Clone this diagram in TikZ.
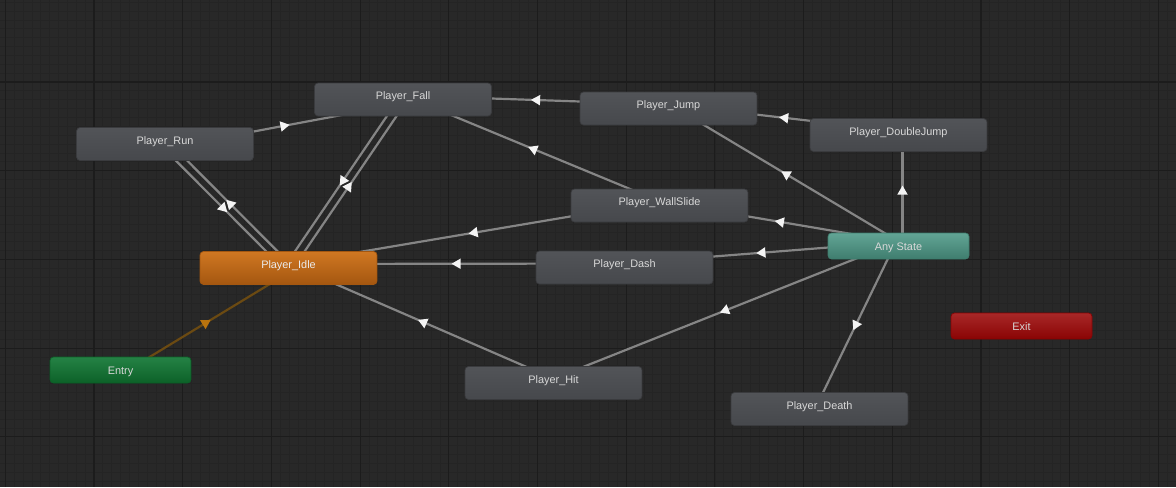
\documentclass[tikz,border=0pt]{standalone}
\usepackage{fontspec}
\setmainfont{Liberation Sans}
\usetikzlibrary{calc,decorations.markings}
\definecolor{bgDark}{HTML}{282828}
\definecolor{gridMinor}{HTML}{242424}
\definecolor{gridMajor}{HTML}{1C1C1C}
\definecolor{stateTop}{HTML}{525458}
\definecolor{stateBot}{HTML}{46484C}
\definecolor{stateEdge}{HTML}{3A3B3E}
\definecolor{idleTop}{HTML}{D07722}
\definecolor{idleBot}{HTML}{A45710}
\definecolor{entryTop}{HTML}{258245}
\definecolor{entryBot}{HTML}{0C6128}
\definecolor{anyTop}{HTML}{62A595}
\definecolor{anyBot}{HTML}{3F7D6E}
\definecolor{exitTop}{HTML}{A82828}
\definecolor{exitBot}{HTML}{8A0404}
\definecolor{labelText}{HTML}{D8D8D8}
\definecolor{transGray}{HTML}{858585}
\definecolor{arrowWhite}{HTML}{F4F4F4}
\definecolor{entryLine}{HTML}{6B4A12}
\definecolor{entryArrow}{HTML}{B8730E}
\pgfdeclarelayer{bg}
\pgfdeclarelayer{edges}
\pgfsetlayers{bg,edges,main}
\tikzset{
  stateBox/.style={rounded corners=2pt, inner sep=0pt, minimum width=3.54cm, minimum height=0.66cm,
    top color=stateTop, bottom color=stateBot, draw=stateEdge, line width=0.4pt,
    font=\fontsize{6.2}{7}\selectfont, text=labelText, text height=5pt, text depth=4.5pt},
  idleBox/.style={stateBox, top color=idleTop, bottom color=idleBot, draw=idleBot, text=white!92!black},
  specialBox/.style={rounded corners=2pt, inner sep=0pt, minimum width=2.82cm, minimum height=0.52cm,
    line width=0.4pt, font=\fontsize{6.2}{7}\selectfont, text=labelText, text height=5pt, text depth=0pt},
  entryBox/.style={specialBox, top color=entryTop, bottom color=entryBot, draw=entryBot},
  anyBox/.style={specialBox, top color=anyTop, bottom color=anyBot, draw=anyBot},
  exitBox/.style={specialBox, top color=exitTop, bottom color=exitBot, draw=exitBot},
  transLine/.style={draw=transGray, line width=1.25pt, postaction={decorate},
    decoration={markings, mark=at position 0.5 with {\fill[arrowWhite] (-2.4pt,-3pt) -- (2.8pt,0pt) -- (-2.4pt,3pt) -- cycle;}}},
  entryTrans/.style={draw=entryLine, line width=1.25pt, postaction={decorate},
    decoration={markings, mark=at position 0.5 with {\fill[entryArrow] (-2.4pt,-3pt) -- (2.8pt,0pt) -- (-2.4pt,3pt) -- cycle;}}},
  minorLine/.style={draw=gridMinor, line width=0.45pt},
  majorLine/.style={draw=gridMajor, line width=0.6pt}
}

\begin{document}
\begin{tikzpicture}[x=0.02cm,y=-0.02cm]
  % canvas and grid
  \begin{pgfonlayer}{bg}
    \fill[bgDark] (0,0) rectangle (1176,487);
    \useasboundingbox (0,0) rectangle (1176,487);
    \foreach \i in {0,...,132} \draw[minorLine] ({5.3+8.87*\i},0) -- ({5.3+8.87*\i},487);
    \foreach \i in {0,...,55} \draw[minorLine] (0,{2.17+8.87*\i}) -- (1176,{2.17+8.87*\i});
    \foreach \i in {0,...,13} \draw[majorLine] ({5.3+88.7*\i},0) -- ({5.3+88.7*\i},487);
    \foreach \i in {0,...,5} \draw[majorLine] (0,{-6.7+88.7*\i}) -- (1176,{-6.7+88.7*\i});
  \end{pgfonlayer}

  % states
  \node[stateBox] (fall) at (403,99.5) {Player\_Fall};
  \node[stateBox] (run) at (165,144) {Player\_Run};
  \node[stateBox] (jump) at (668.5,108.5) {Player\_Jump};
  \node[stateBox] (djump) at (898.5,135) {Player\_DoubleJump};
  \node[stateBox] (wall) at (659.5,205.5) {Player\_WallSlide};
  \node[idleBox] (idle) at (288.5,268) {Player\_Idle};
  \node[stateBox] (dash) at (624.5,267.5) {Player\_Dash};
  \node[stateBox] (hit) at (553.5,383) {Player\_Hit};
  \node[stateBox] (death) at (819.5,409) {Player\_Death};
  \node[anyBox] (any) at (898.5,246) {Any State};
  \node[entryBox] (entry) at (120.5,370) {Entry};
  \node[exitBox] (exit) at (1021.5,326) {Exit};

  % transitions, offset to the right of travel
  \begin{pgfonlayer}{edges}
    \foreach \a/\b in {run/fall, run/idle, idle/run, fall/idle, idle/fall, jump/fall, djump/jump,
      wall/fall, wall/idle, dash/idle, hit/idle, any/jump, any/djump, any/wall, any/dash, any/hit, any/death}
      \draw[transLine] ($(\a.center)!0.08cm!-90:(\b.center)$) -- ($(\b.center)!0.08cm!90:(\a.center)$);
    \draw[entryTrans] ($(entry.center)!0.08cm!-90:(idle.center)$) -- ($(idle.center)!0.08cm!90:(entry.center)$);
  \end{pgfonlayer}
\end{tikzpicture}
\end{document}
